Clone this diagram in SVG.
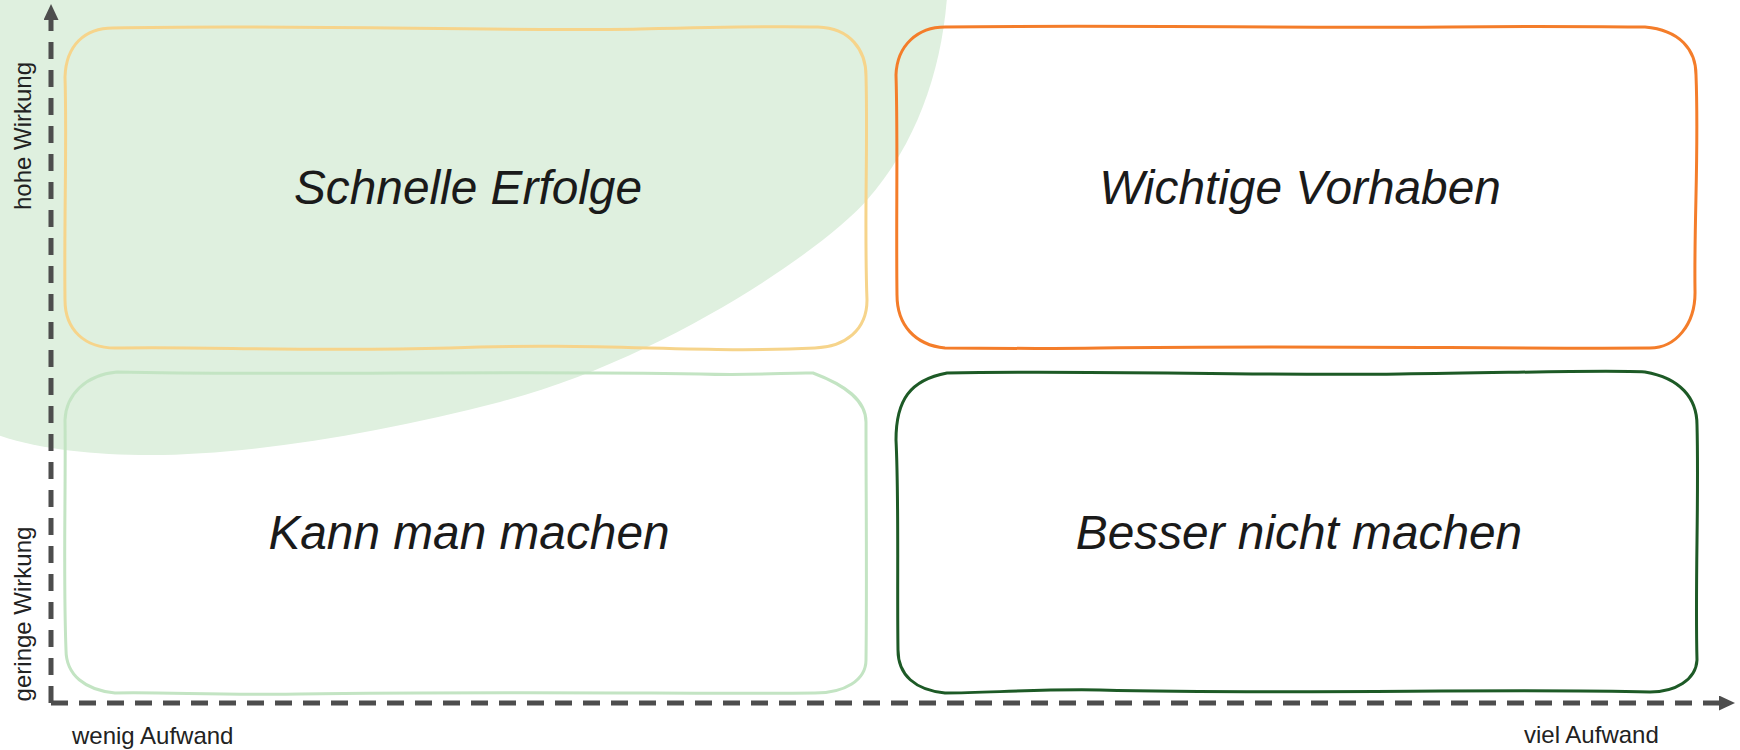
<svg xmlns="http://www.w3.org/2000/svg" width="1740" height="750" viewBox="0 0 1740 750">
  <defs>
    <style>
      .box { fill: none; stroke-width: 3; stroke-linejoin: round; stroke-linecap: round; }
      .title { font-family: "Liberation Sans", Arial, sans-serif; font-style: italic; font-size: 47.8px; fill: #1a1a1a; text-anchor: middle; }
      .axis-label { font-family: "Liberation Sans", Arial, sans-serif; font-size: 24px; fill: #222222; }
      .axis { fill: none; stroke: #4d4d4d; stroke-width: 5; stroke-dasharray: 17 11; }
    </style>
    <marker id="arrow" viewBox="0 0 16 15" refX="0" refY="7.5" markerWidth="16" markerHeight="15" markerUnits="userSpaceOnUse" orient="auto">
      <path d="M0,0 L16,7.5 L0,15 Z" fill="#4d4d4d"/>
    </marker>
  </defs>

  <rect width="1740" height="750" fill="#ffffff"/>

  <!-- highlighted zone: low effort / high impact -->
  <path id="focus-zone" d="M 948 -20 C 945 60, 920 140, 867 200 C 820 253, 660 360, 500 402 C 380 433, 250 455, 150 455 C 90 455, 30 448, -10 432 L -10 -20 Z" fill="#dff0df"/>

  <g id="quick-wins">
    <path class="box" stroke="#f6d48b" d="M 113 28 C 300 24, 500 32, 640 29 C 720 27, 780 26, 818 27 C 850 28, 866 50, 866 76 C 868 150, 864 220, 867 300 C 867 330, 845 347, 815 348 C 700 354, 600 342, 450 348 C 300 352, 200 346, 115 348 C 85 348, 65 330, 65 300 C 64 220, 67 140, 65 77 C 66 45, 85 28, 113 28 Z"/>
    <text class="title" x="468" y="204">Schnelle Erfolge</text>
  </g>

  <g id="major-projects">
    <path class="box" stroke="#f47d2a" d="M 945 27 C 1100 25, 1300 28, 1450 27 C 1550 26, 1600 27, 1645 27 C 1680 30, 1696 50, 1696 75 C 1699 150, 1694 220, 1695 290 C 1696 325, 1675 348, 1650 348 C 1500 349, 1300 345, 1100 348 C 1030 349, 980 348, 945 348 C 915 345, 897 325, 897 295 C 896 220, 898 140, 896 75 C 897 45, 918 27, 945 27 Z"/>
    <text class="title" x="1300" y="204">Wichtige Vorhaben</text>
  </g>

  <g id="fill-ins">
    <path class="box" stroke="#c3e4c3" d="M 117 372 C 300 376, 500 370, 700 374 C 760 376, 790 372, 813 373 C 845 385, 866 400, 866 422 C 866 500, 867 580, 866 660 C 866 680, 845 693, 815 693 C 700 694, 500 691, 300 694 C 220 695, 160 692, 115 693 C 85 690, 66 675, 66 650 C 63 570, 66 490, 65 420 C 66 395, 85 375, 117 372 Z"/>
    <text class="title" x="469" y="549">Kann man machen</text>
  </g>

  <g id="thankless-tasks">
    <path class="box" stroke="#1d5a26" d="M 947 373 C 1100 370, 1250 376, 1400 374 C 1550 372, 1610 370, 1645 372 C 1680 378, 1697 398, 1697 425 C 1699 500, 1695 580, 1697 660 C 1696 680, 1675 692, 1650 692 C 1500 688, 1300 695, 1100 690 C 1030 689, 990 693, 945 693 C 915 690, 898 675, 898 650 C 897 580, 899 500, 896 440 C 896 400, 910 380, 947 373 Z"/>
    <text class="title" x="1299" y="549">Besser nicht machen</text>
  </g>

  <g id="axes">
    <path class="axis" d="M 51 703 L 51 20" marker-end="url(#arrow)"/>
    <path class="axis" d="M 51 703 L 1719 703" marker-end="url(#arrow)"/>
  </g>

  <g id="axis-labels">
    <text class="axis-label" transform="translate(31,136) rotate(-90)" text-anchor="middle">hohe Wirkung</text>
    <text class="axis-label" transform="translate(31,614) rotate(-90)" text-anchor="middle">geringe Wirkung</text>
    <text class="axis-label" x="72" y="744">wenig Aufwand</text>
    <text class="axis-label" x="1524" y="743">viel Aufwand</text>
  </g>
</svg>
